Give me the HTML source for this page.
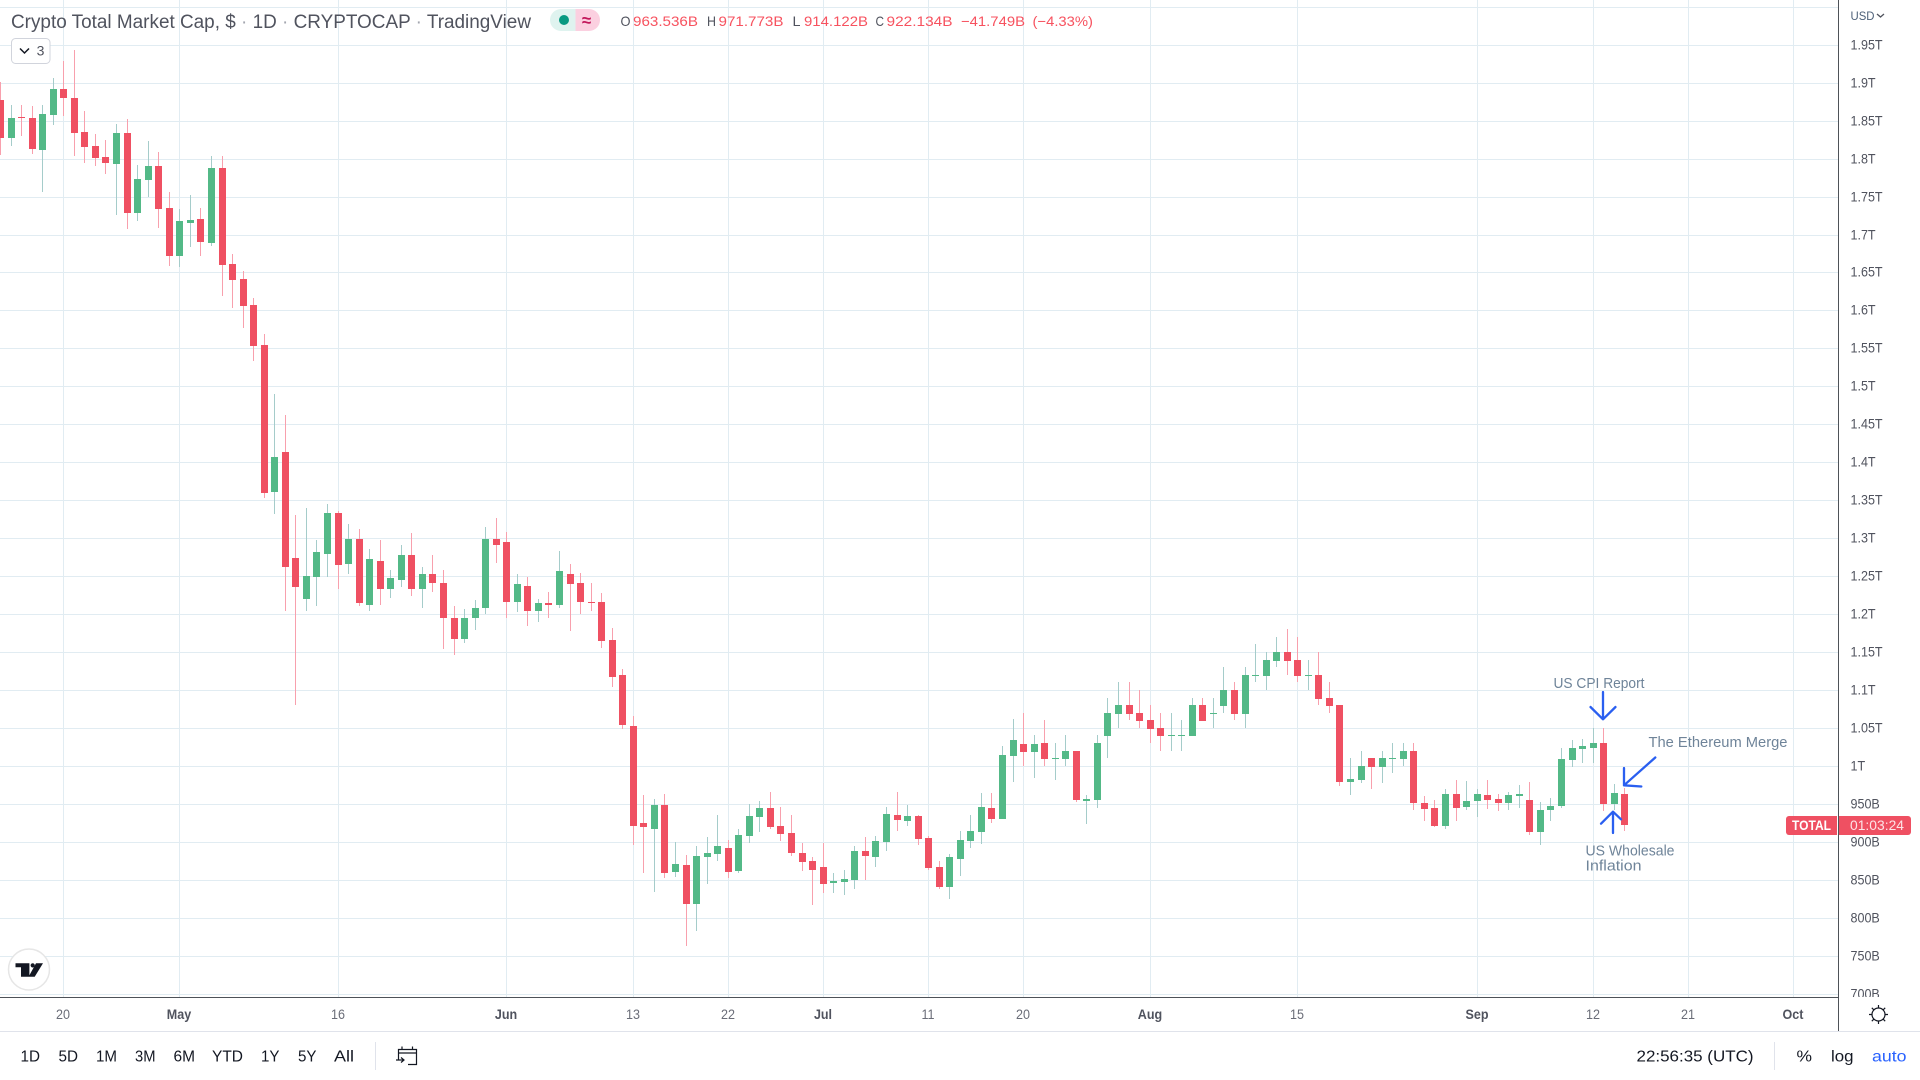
<!DOCTYPE html>
<html lang="en">
<head>
<meta charset="utf-8">
<title>Crypto Total Market Cap</title>
<style>
html,body{margin:0;padding:0;background:#fff;width:1920px;height:1080px;overflow:hidden}
svg{display:block;font-family:"Liberation Sans",Arial,sans-serif}
</style>
</head>
<body>
<svg id="chart" xmlns="http://www.w3.org/2000/svg" width="1920" height="1080" viewBox="0 0 1920 1080">
  <g id="grid"></g>
  <g id="candles"></g>

  <g font-size="14.5" fill="#6f8499">
    <text x="1553.5" y="688" textLength="91" lengthAdjust="spacingAndGlyphs">US CPI Report</text>
    <text x="1648.5" y="747" textLength="139" lengthAdjust="spacingAndGlyphs">The Ethereum Merge</text>
    <text x="1585.5" y="855.5" textLength="89" lengthAdjust="spacingAndGlyphs">US Wholesale</text>
    <text x="1585.5" y="870.5" textLength="56" lengthAdjust="spacingAndGlyphs">Inflation</text>
    <g fill="none" stroke="#2a5ff0" stroke-width="2.3" stroke-linecap="round" stroke-linejoin="round">
      <path d="M1603 692V719M1590.5 707L1603 719.3L1615.5 707"/>
      <path d="M1655.3 757.5L1624 785.3M1624 768V785.3L1641.3 786.5"/>
      <path d="M1613 833V812M1601 823.7L1613 811.7L1621 819.3"/>
    </g>
  </g>

  <g id="yaxis"></g>
  <text x="1850.5" y="20" font-size="12" fill="#4d6078" textLength="24" lengthAdjust="spacingAndGlyphs">USD</text>
  <path d="M1877 14L1880.5 17L1884 14" fill="none" stroke="#50535e" stroke-width="1.3"/>

  <g>
    <path d="M1837 816H1789a3 3 0 0 0 -3 3V832a3 3 0 0 0 3 3H1837Z" fill="#ef5062"/>
    <text x="1792" y="830" font-size="14" font-weight="bold" fill="#fff" textLength="39" lengthAdjust="spacingAndGlyphs">TOTAL</text>
    <path d="M1838 816H1908a3 3 0 0 1 3 3V832a3 3 0 0 1 -3 3H1838Z" fill="#ef5062"/>
    <text x="1850" y="830" font-size="14" fill="#fde3e6" textLength="54" lengthAdjust="spacingAndGlyphs">01:03:24</text>
  </g>

  <rect x="0" y="997" width="1920" height="83" fill="#fff"/>
  <rect x="0" y="997" width="1838" height="1" fill="#4e5258"/>
  <rect x="1838" y="0" width="1" height="1031" fill="#4e5258"/>
  <rect x="0" y="1031" width="1920" height="1" fill="#e0e3eb"/>
  <g id="xaxis"></g>

  <g fill="none" stroke="#131722" stroke-width="1.2">
    <circle cx="1878.5" cy="1014.5" r="6.5"/>
    <path d="M1878.5 1005V1008M1878.5 1021V1024M1869 1014.5H1872M1885 1014.5H1888M1871.8 1007.8L1873.9 1009.9M1883.1 1019.1L1885.2 1021.2M1871.8 1021.2L1873.9 1019.1M1883.1 1009.9L1885.2 1007.8"/>
  </g>

  <text x="11" y="28" font-size="19" fill="#50535e" textLength="520" lengthAdjust="spacingAndGlyphs">Crypto Total Market Cap, $ <tspan fill="#a3a6af">·</tspan> 1D <tspan fill="#a3a6af">·</tspan> CRYPTOCAP <tspan fill="#a3a6af">·</tspan> TradingView</text>
  <g>
    <path d="M575.5 9H561a11 11 0 0 0 0 22H575.5Z" fill="#dff3ef"/>
    <path d="M575.5 9H589a11 11 0 0 1 0 22H575.5Z" fill="#fbd0e0"/>
    <circle cx="564" cy="20" r="5" fill="#089981"/>
    <text x="586.5" y="26" font-size="17" font-weight="bold" fill="#c2185b" text-anchor="middle">≈</text>
  </g>
  <g font-size="14" fill="#f7525f">
    <text x="620.5" y="26" fill="#50535e" textLength="10" lengthAdjust="spacingAndGlyphs">O</text>
    <text x="633" y="26" textLength="65" lengthAdjust="spacingAndGlyphs">963.536B</text>
    <text x="707" y="26" fill="#50535e" textLength="9" lengthAdjust="spacingAndGlyphs">H</text>
    <text x="718.5" y="26" textLength="65" lengthAdjust="spacingAndGlyphs">971.773B</text>
    <text x="792.5" y="26" fill="#50535e" textLength="8" lengthAdjust="spacingAndGlyphs">L</text>
    <text x="804" y="26" textLength="64" lengthAdjust="spacingAndGlyphs">914.122B</text>
    <text x="875.5" y="26" fill="#50535e" textLength="8.5" lengthAdjust="spacingAndGlyphs">C</text>
    <text x="886.5" y="26" textLength="66" lengthAdjust="spacingAndGlyphs">922.134B</text>
    <text x="961" y="26" textLength="64" lengthAdjust="spacingAndGlyphs">−41.749B</text>
    <text x="1032.5" y="26" textLength="60.5" lengthAdjust="spacingAndGlyphs">(−4.33%)</text>
  </g>
  <g>
    <rect x="11.5" y="38.5" width="38.5" height="25" rx="4" fill="#fff" stroke="#d1d4dc"/>
    <path d="M20 48.5L24.5 53L29 48.5" fill="none" stroke="#131722" stroke-width="1.5"/>
    <text x="40.5" y="55.5" font-size="14" fill="#50535e" text-anchor="middle">3</text>
  </g>

  <g>
    <circle cx="29" cy="969.5" r="20.5" fill="#fff" stroke="#e6e6e6" stroke-width="1.5"/>
    <path d="M15.5 963.3H29.4V976.7H21V967.3H15.5ZM36 963.3H43L34.7 976.7H28.6Z" fill="#131722"/>
    <circle cx="32.7" cy="965.4" r="2.1" fill="#131722"/>
  </g>

  <g font-size="16" fill="#131722">
    <text x="20.5" y="1061.5" textLength="19.5" lengthAdjust="spacingAndGlyphs">1D</text>
    <text x="58.5" y="1061.5" textLength="19.5" lengthAdjust="spacingAndGlyphs">5D</text>
    <text x="96" y="1061.5" textLength="21" lengthAdjust="spacingAndGlyphs">1M</text>
    <text x="135" y="1061.5" textLength="20.5" lengthAdjust="spacingAndGlyphs">3M</text>
    <text x="173.5" y="1061.5" textLength="21.5" lengthAdjust="spacingAndGlyphs">6M</text>
    <text x="212" y="1061.5" textLength="31" lengthAdjust="spacingAndGlyphs">YTD</text>
    <text x="261" y="1061.5" textLength="18.5" lengthAdjust="spacingAndGlyphs">1Y</text>
    <text x="298" y="1061.5" textLength="18.5" lengthAdjust="spacingAndGlyphs">5Y</text>
    <text x="334" y="1061.5" textLength="20" lengthAdjust="spacingAndGlyphs">All</text>
  </g>
  <rect x="375" y="1042" width="1" height="28" fill="#e0e3eb"/>
  <g fill="none" stroke="#131722" stroke-width="1.2">
    <path d="M398.5 1060V1049.5H416.5V1064.5H408M398.5 1053H416.5M402 1046.5V1049.5M412.5 1046.5V1049.5"/>
    <path d="M396 1060H404M401 1057.5L404 1060L401 1062.5"/>
  </g>
  <text x="1636.5" y="1061.5" font-size="16" fill="#131722" textLength="117" lengthAdjust="spacingAndGlyphs">22:56:35 (UTC)</text>
  <rect x="1774" y="1042" width="1" height="28" fill="#e0e3eb"/>
  <text x="1796.5" y="1061.5" font-size="16" fill="#131722" textLength="15.5" lengthAdjust="spacingAndGlyphs">%</text>
  <text x="1831" y="1061.5" font-size="16" fill="#131722" textLength="22.5" lengthAdjust="spacingAndGlyphs">log</text>
  <text x="1872" y="1061.5" font-size="16" fill="#2962ff" textLength="34.5" lengthAdjust="spacingAndGlyphs">auto</text>
</svg>

<script>
// Candle values in billions of USD, one entry per day from 14 Apr to 15 Sep.
const opens = [
1878,1828,1855.5,1854,1812,1858,1892,1881,1836,1817,
1803,1794,1834.5,1729,1772.5,1791,1736,1672,1716,1721,
1689.5,1788,1662,1642,1608,1555,1361,1413.5,1274,1221,
1249,1280,1334,1267,1300,1213,1271,1233,1246,1279,
1234,1253,1242,1195,1168,1195,1209,1300,1295,1216,
1238,1204,1214.5,1213,1254,1241,1217,1216,1166,1120,
1053,925,918,949,860.5,870,818,880,884,893,
862,908,933,945,921,912,885.5,875,867,846,
847,850,889,880,900,936,928,934,905,867,
841,878,901,913,945,930,1013,1030,1019,1030.5,
1009.5,1009.5,1020,954,955,1040,1069,1081,1070,1061,
1050,1040,1040,1040,1081,1069,1079,1100,1069,1119,
1119,1139,1150,1140,1119,1120,1090,1081,979,982,
1011,999,1009.5,1009.5,1020,951.5,945,921,963,946,
954,962,957,952,961,955.5,913,942,948,1008,
1023,1024,1031,950,963.536];
const highs = [
1902,1871,1871,1870,1871,1907,1929,1944,1863,1833,
1825,1846,1853,1792,1824,1809,1757,1734,1753,1736,
1804,1804,1675,1653,1617,1570,1491,1463.5,1330.5,1340,
1297.5,1345,1337,1319,1312,1286,1297.5,1258,1291,1307,
1263,1278,1258,1211,1207,1218.5,1315,1326.5,1309,1254,
1249,1221,1229,1284,1267,1255,1241,1228,1182,1128,
1066,962,957,963,900,883,895,907,936,903,
917,950,954,966,947,936,899,880,899,859,
863,895,907,908,946,966,949,936,908,875,
884,914.5,936,964.5,964.5,1026.5,1062,1070,1041,1061,
1030.5,1041,1020,962,1041,1090,1111,1111,1100,1081,
1070,1070,1061,1090,1090,1090,1131,1111,1131,1161,
1150,1170,1181,1170,1140,1150,1111,1081,1011,1020,
1011,1020,1030.5,1030.5,1030.5,961,955,970,982,981,
970,982,963,966,975,979,953,958,1024,1035,
1036,1050,1050,977,971.773];
const lows = [
1805.5,1817,1830.5,1807,1757,1845,1857,1804,1795,1791,
1780,1726,1708,1718.5,1750,1709,1659,1658,1684,1672,
1686,1620,1604,1577.5,1534,1353,1333,1204,1081,1204,
1211,1250,1234,1253,1211,1204,1213,1222,1236,1225,
1209,1229,1154,1147,1162,1179,1201,1268.5,1196,1203,
1185.5,1189.5,1196,1209,1178,1201,1205,1156.5,1105,1049,
896,859,834,852.5,854,763,783,845,875,852.5,
859,899,913,917,901,881.5,862,817,833,833,
830,838,850,867,889,914.5,921,896,863,838,
825,855,893,897,925,930,979,1000,984,1000,
982,1000,953,924,945,1011,1050,1061,1050,1030.5,
1020,1020,1020,1040,1059.5,1050,1070,1061,1050,1111,
1100,1131,1120,1111,1100,1081,1070,974,962,978,
970,978,991,1000,942,928,920,917,928,942,
933,944,941,942,945,909,896,928,945,999,
1004,1004,941,942,914.122];
const closes = [
1828,1854,1854,1813,1859.5,1892,1881,1834.5,1816,1801.5,
1795,1834.5,1729,1774,1791,1734,1672,1718.5,1720,1691,
1788,1660.5,1641,1606.5,1554,1359.5,1408,1263,1236,1251,
1282,1334,1265,1300,1214.5,1272.5,1233,1247.5,1279,1234,
1253,1241,1195,1168,1196,1209,1300,1292,1216,1240,
1204,1214.5,1212,1257,1240,1216,1214.5,1164.5,1117,1054,
922,920,949,859,871,818,881.5,885.5,895,860.5,
909,934,945,920,910.5,885.5,874,864,845,849,
851,888,881.5,901,937,929,934,904,866,841,
880,903,914.5,946,930,1015,1034,1019,1030,1009.5,
1011,1020,955,957,1030.5,1070,1081,1069,1059.5,1049,
1040,1041,1041,1081,1059.5,1070,1100,1069,1120,1120,
1140,1150,1139,1119,1120,1088.5,1079,979,983,1000,
999,1011,1011,1020,951.5,944,921,963,945,954,
963,955.5,952,962,963,913,942,948,1010,1024,
1027,1031,950,965,922.134];

const priceTicks = [2000,1950,1900,1850,1800,1750,1700,1650,1600,1550,1500,1450,1400,1350,1300,1250,1200,1150,1100,1050,1000,950,900,850,800,750,700];
const priceLabels = ["","1.95T","1.9T","1.85T","1.8T","1.75T","1.7T","1.65T","1.6T","1.55T","1.5T","1.45T","1.4T","1.35T","1.3T","1.25T","1.2T","1.15T","1.1T","1.05T","1T","950B","900B","850B","800B","750B","700B"];
const timeTickIndex = [6,17,32,48,60,69,78,88,97,109,123,140,151,160,170];
const timeLabels = ["20","May","16","Jun","13","22","Jul","11","20","Aug","15","Sep","12","21","Oct"];
const monthLabels = ["May","Jun","Jul","Aug","Sep","Oct"];

const NS = 'http://www.w3.org/2000/svg';
function xScale(i){ return Math.round(i * 10.547 + 0.02); }
function yScale(v){ return 766.3 - (v - 1000) * 0.759; }
function make(tag, parent){
  const el = document.createElementNS(NS, tag);
  parent.appendChild(el);
  return el;
}

const gridLayer = document.getElementById('grid');
priceTicks.forEach(function(v){
  const line = make('rect', gridLayer);
  
  
  line.setAttribute('x', 0);
  line.setAttribute('y', Math.floor(yScale(v)));
  line.setAttribute('width', 1838);
  line.setAttribute('height', 1);
  line.setAttribute('fill', '#e1ecf2');
});
timeTickIndex.forEach(function(i){
  const line = make('rect', gridLayer);
  
  
  line.setAttribute('x', xScale(i));
  line.setAttribute('y', 0);
  line.setAttribute('width', 1);
  line.setAttribute('height', 997);
  line.setAttribute('fill', '#e1ecf2');
});

const candleLayer = document.getElementById('candles');
opens.forEach(function(open, i){
  const close = closes[i];
  const up = close >= open;
  const cx = xScale(i);
  const wick = make('rect', candleLayer);
  
  
  const wickTop = Math.round(yScale(highs[i]));
  wick.setAttribute('x', cx);
  wick.setAttribute('y', wickTop);
  wick.setAttribute('width', 1);
  wick.setAttribute('height', Math.max(1, Math.round(yScale(lows[i])) - wickTop));
  wick.setAttribute('fill', up ? '#a5ccca' : '#f8a0ad');
  const body = make('rect', candleLayer);
  
  
  const top = Math.round(yScale(Math.max(open, close)));
  const bottom = Math.round(yScale(Math.min(open, close)));
  body.setAttribute('x', cx - 3);
  body.setAttribute('y', top);
  body.setAttribute('width', 7);
  body.setAttribute('height', Math.max(1, bottom - top));
  body.setAttribute('fill', up ? '#53b987' : '#ef5062');
});

const yLayer = document.getElementById('yaxis');
const yBg = make('rect', yLayer);


yBg.setAttribute('x', 1838);
yBg.setAttribute('y', 0);
yBg.setAttribute('width', 82);
yBg.setAttribute('height', 997);
yBg.setAttribute('fill', '#fff');
priceTicks.forEach(function(v, i){
  if (!priceLabels[i]) return;
  const t = make('text', yLayer);
  
  
  t.setAttribute('x', 1850.5);
  t.setAttribute('y', Math.floor(yScale(v)) + 4.6);
  t.setAttribute('font-size', 13.5);
  t.setAttribute('fill', '#50535e');
  t.textContent = priceLabels[i];
  t.setAttribute('textLength', (t.getComputedTextLength() * 0.93).toFixed(1));
  t.setAttribute('lengthAdjust', 'spacingAndGlyphs');
});

const xLayer = document.getElementById('xaxis');
timeTickIndex.forEach(function(idx, i){
  const t = make('text', xLayer);
  
  
  const isMonth = monthLabels.indexOf(timeLabels[i]) >= 0;
  t.setAttribute('x', xScale(idx));
  t.setAttribute('y', 1019);
  t.setAttribute('font-size', 13.5);
  t.setAttribute('text-anchor', 'middle');
  t.setAttribute('font-weight', isMonth ? 'bold' : 'normal');
  t.setAttribute('fill', isMonth ? '#50535e' : '#6a6d78');
  t.textContent = timeLabels[i];
  t.setAttribute('textLength', (t.getComputedTextLength() * 0.93).toFixed(1));
  t.setAttribute('lengthAdjust', 'spacingAndGlyphs');
});
</script>
</body>
</html>
